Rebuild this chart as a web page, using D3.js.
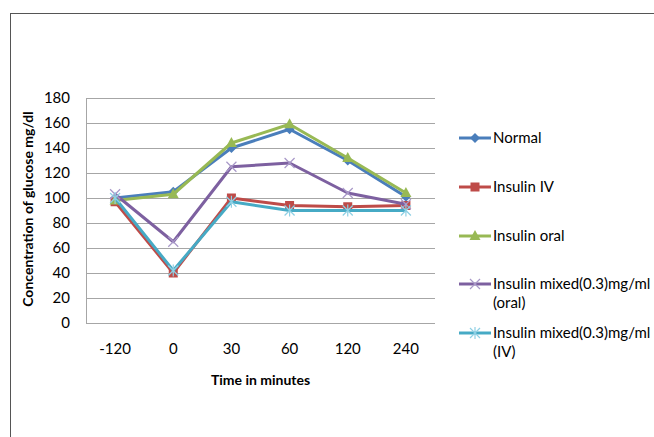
<!DOCTYPE html>
<meta charset="utf-8">
<head>
  <style>
    body { margin: 0; background: #fff; }
    text { font-family: Lato, "Open Sans", sans-serif; fill: #000; }
  </style>
</head>
<body>
<div id="my_dataviz"></div>
<script src="https://d3js.org/d3.v7.min.js"></script>
<script>

// data
var times = ["-120", "0", "30", "60", "120", "240"];
var yTicks = [0, 20, 40, 60, 80, 100, 120, 140, 160, 180];
var seriesNames = ["Normal", "Insulin IV", "Insulin oral", "Insulin mixed(0.3)mg/ml (oral)", "Insulin mixed(0.3)mg/ml (IV)"];
var normal      = [100, 105, 140, 155, 130, 101];
var insulinIV   = [97, 40, 100, 94, 93, 94];
var insulinOral = [98, 103, 144, 159, 132, 104];
var mixedOral   = [103, 65, 125, 128, 104, 95];
var mixedIV     = [100, 42, 97, 90, 90, 90];

var allValues = [normal, insulinIV, insulinOral, mixedOral, mixedIV];
var colors = ["#4A7EBB", "#BE4B48", "#98B954", "#7D60A0", "#46AAC5"];
var shapes = ["diamond", "square", "triangle", "x", "asterisk"];

var W = 654, H = 437;
var margin = {top: 98, right: 219, bottom: 114, left: 86},
    width = W - margin.left - margin.right,
    height = H - margin.top - margin.bottom;

var root = d3.select("#my_dataviz")
  .append("svg")
    .attr("width", W)
    .attr("height", H);

// outer frame (runs off the right and bottom edge)
root.append("rect")
  .attr("x", 10.5).attr("y", 13.5)
  .attr("width", W + 10).attr("height", H + 10)
  .attr("fill", "none")
  .attr("stroke", "#555")
  .attr("stroke-width", 1);

var svg = root.append("g")
  .attr("transform", "translate(" + margin.left + "," + margin.top + ")");

var x = d3.scaleBand()
  .domain(times)
  .range([0, width]);

var y = d3.scaleLinear()
  .domain([0, 180])
  .range([height, 0]);

// grid lines
svg.append("g")
  .selectAll("line")
  .data(yTicks.slice(1))
  .enter()
  .append("line")
    .attr("x1", 0).attr("x2", width)
    .attr("y1", function(d) { return Math.round(y(d)) + 0.5; })
    .attr("y2", function(d) { return Math.round(y(d)) + 0.5; })
    .attr("stroke", "#A6A6A6")
    .attr("stroke-width", 1);

// axes lines
svg.append("line")
  .attr("x1", 0.5).attr("x2", 0.5).attr("y1", 0).attr("y2", height)
  .attr("stroke", "#A6A6A6");
svg.append("line")
  .attr("x1", 0).attr("x2", width)
  .attr("y1", Math.round(height) + 0.5).attr("y2", Math.round(height) + 0.5)
  .attr("stroke", "#A6A6A6");

// y tick labels
svg.append("g")
  .selectAll("text")
  .data(yTicks)
  .enter()
  .append("text")
    .attr("x", -16)
    .attr("y", function(d) { return y(d); })
    .attr("dy", "0.35em")
    .attr("text-anchor", "end")
    .style("font-size", "15px")
    .text(function(d) { return d; });

// x tick labels
svg.append("g")
  .selectAll("text")
  .data(times)
  .enter()
  .append("text")
    .attr("x", function(d) { return x(d) + x.bandwidth() / 2; })
    .attr("y", height + 26)
    .attr("dy", "0.35em")
    .attr("text-anchor", "middle")
    .style("font-size", "15px")
    .text(function(d) { return d; });

// axis titles
svg.append("text")
  .attr("x", width / 2)
  .attr("y", height + 57)
  .attr("dy", "0.35em")
  .attr("text-anchor", "middle")
  .style("font-size", "14px")
  .style("font-weight", "bold")
  .text("Time in minutes");

svg.append("text")
  .attr("transform", "translate(" + (28 - margin.left) + "," + (209 - margin.top) + ") rotate(-90)")
  .attr("dy", "0.35em")
  .attr("text-anchor", "middle")
  .style("font-size", "14px")
  .style("font-weight", "bold")
  .text("Concentration of glucose mg/dl");

// marker drawing
function drawMarker(g, shape, color, cx, cy) {
  if (shape == "diamond") {
    g.append("path")
      .attr("d", "M" + cx + "," + (cy - 5) + "L" + (cx + 5) + "," + cy + "L" + cx + "," + (cy + 5) + "L" + (cx - 5) + "," + cy + "Z")
      .attr("fill", color);
  } else if (shape == "square") {
    g.append("rect")
      .attr("x", cx - 4.5).attr("y", cy - 4.5)
      .attr("width", 9).attr("height", 9)
      .attr("fill", color);
  } else if (shape == "triangle") {
    g.append("path")
      .attr("d", "M" + cx + "," + (cy - 6) + "L" + (cx + 5.5) + "," + (cy + 4) + "L" + (cx - 5.5) + "," + (cy + 4) + "Z")
      .attr("fill", color);
  } else if (shape == "x") {
    g.append("path")
      .attr("d", "M" + (cx - 5) + "," + (cy - 5) + "L" + (cx + 5) + "," + (cy + 5) + "M" + (cx + 5) + "," + (cy - 5) + "L" + (cx - 5) + "," + (cy + 5))
      .attr("stroke", "#A898C8").attr("stroke-width", 1.2).attr("fill", "none");
  } else if (shape == "asterisk") {
    g.append("path")
      .attr("d", "M" + (cx - 5) + "," + (cy - 5) + "L" + (cx + 5) + "," + (cy + 5) + "M" + (cx + 5) + "," + (cy - 5) + "L" + (cx - 5) + "," + (cy + 5) + "M" + cx + "," + (cy - 6) + "L" + cx + "," + (cy + 6))
      .attr("stroke", "#8FD0E4").attr("stroke-width", 1.2).attr("fill", "none");
  }
}

var line = d3.line()
  .x(function(d, i) { return x(times[i]) + x.bandwidth() / 2; })
  .y(function(d) { return y(d); });

allValues.forEach(function(vals, s) {
  var g = svg.append("g");
  g.append("path")
    .datum(vals)
    .attr("d", line)
    .attr("fill", "none")
    .attr("stroke", colors[s])
    .attr("stroke-width", 3)
    .attr("stroke-linejoin", "round");
  vals.forEach(function(v, i) {
    drawMarker(g, shapes[s], colors[s], x(times[i]) + x.bandwidth() / 2, y(v));
  });
});

// legend
var legendRows = [
  {lines: ["Normal"], y: 138},
  {lines: ["Insulin IV"], y: 187},
  {lines: ["Insulin oral"], y: 236},
  {lines: ["Insulin mixed(0.3)mg/ml", "(oral)"], y: 284},
  {lines: ["Insulin mixed(0.3)mg/ml", "(IV)"], y: 333}
];

var legend = root.append("g");
legendRows.forEach(function(r, s) {
  legend.append("line")
    .attr("x1", 459).attr("x2", 491)
    .attr("y1", r.y).attr("y2", r.y)
    .attr("stroke", colors[s]).attr("stroke-width", 3);
  drawMarker(legend, shapes[s], colors[s], 475, r.y);
  r.lines.forEach(function(t, k) {
    legend.append("text")
      .attr("x", 493)
      .attr("y", r.y + k * 19)
      .attr("dy", "0.35em")
      .style("font-size", "15px")
      .text(t);
  });
});

</script>
</body>
